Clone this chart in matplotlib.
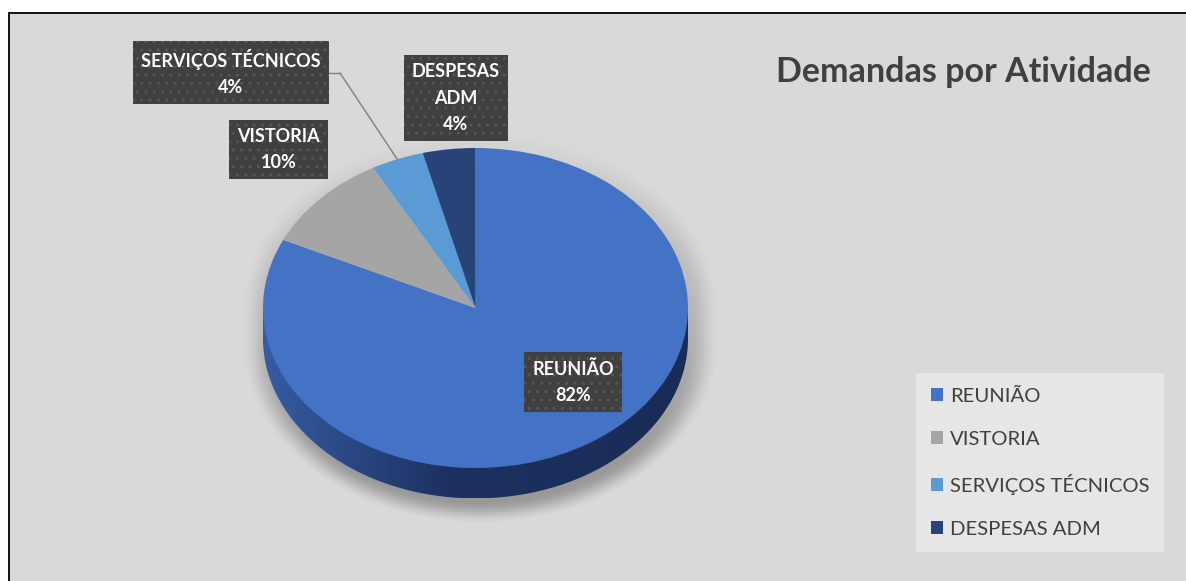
import numpy as np
import matplotlib
matplotlib.use("Agg")
import matplotlib.pyplot as plt
from matplotlib.patches import Rectangle, Polygon

# data
categories = ["REUNIÃO", "VISTORIA", "SERVIÇOS TÉCNICOS", "DESPESAS ADM"]
values = [82, 10, 4, 4]
colors = ["#4472C4", "#A5A5A5", "#5B9BD5", "#264478"]
label_texts = ["REUNIÃO", "VISTORIA", "SERVIÇOS TÉCNICOS", "DESPESAS\nADM"]
title = "Demandas por Atividade"

W, H = 1186, 581
FONT = ["Lato", "DejaVu Sans"]

# pie geometry in pixels (top ellipse) and depth of the 3D side
CX, CY = 475.5, 308.0
RX, RY = 212.5, 160.0
DEPTH = 0.19
M = 0.35

fig = plt.figure(figsize=(W / 100, H / 100), dpi=100)
fig.patch.set_facecolor("white")

ax_bg = fig.add_axes([0, 0, 1, 1])
ax_bg.set_xlim(0, W)
ax_bg.set_ylim(H, 0)
ax_bg.axis("off")
ax_bg.add_patch(Rectangle((9, 13), W, H, facecolor="#D9D9D9", edgecolor="black", lw=1.3))

# pie axes: unit circle stretched to the ellipse
x0, x1 = -1 - M, 1 + M
y0, y1 = -1 - DEPTH - M, 1 + M
left_px = CX + x0 * RX
top_px = CY - y1 * RY
w_px = (x1 - x0) * RX
h_px = (y1 - y0) * RY
ax = fig.add_axes([left_px / W, 1 - (top_px + h_px) / H, w_px / W, h_px / H])
ax.set_zorder(2)

# overlay for labels and leader line
ax_top = fig.add_axes([0, 0, 1, 1])
ax_top.set_xlim(0, W)
ax_top.set_ylim(H, 0)
ax_top.axis("off")
ax_top.set_zorder(3)
ax_top.patch.set_alpha(0)

# soft shadow around the cylinder
xs = np.linspace(x0, x1, 500)
ys = np.linspace(y0, y1, 500)
X, Y = np.meshgrid(xs, ys)
Xs = X - 0.02
r = np.sqrt(Xs ** 2 + (Y - np.clip(Y, -DEPTH - 0.04, 0)) ** 2)
t = np.clip((1.13 - r) / 0.15, 0, 1)
alpha = 0.3 * t * t * (3 - 2 * t)
alpha *= np.clip(0.55 - Y * 0.45, 0.1, 1)  # lighter at the top
img = np.zeros(X.shape + (4,))
img[..., 3] = alpha
ax.imshow(img, extent=[x0, x1, y0, y1], origin="lower", aspect="auto", zorder=0,
          interpolation="bilinear")

# 3D side of the pie (front half), gradient fill
ang = np.linspace(0, -np.pi, 200)
side = np.vstack([[1, 0], np.column_stack([np.cos(ang), np.sin(ang) - DEPTH]), [-1, 0]])
side_patch = Polygon(side, closed=True, facecolor="none", edgecolor="none")
ax.add_patch(side_patch)
gx = np.linspace(-1, 1, 300)
c_left = np.array([0x36, 0x5C, 0xA3]) / 255
c_mid = np.array([0x1D, 0x32, 0x62]) / 255
c_right = np.array([0x1A, 0x2C, 0x55]) / 255
grad = np.zeros((2, gx.size, 3))
for i, g in enumerate(gx):
    if g < -0.15:
        f = (g + 1) / 0.85
        grad[:, i] = c_left * (1 - f) + c_mid * f
    else:
        f = (g + 0.15) / 1.15
        grad[:, i] = c_mid * (1 - f) + c_right * f
gim = ax.imshow(grad, extent=[-1, 1, -1 - DEPTH, 0], origin="lower", aspect="auto", zorder=1)
gim.set_clip_path(side_patch)

wedges, _ = ax.pie(values, colors=colors, startangle=90, counterclock=False,
                   radius=1, center=(0, 0), wedgeprops=dict(linewidth=0))
for w in wedges:
    w.set_zorder(2)
ax.set_aspect("auto")
ax.set_xlim(x0, x1)
ax.set_ylim(y0, y1)
ax.axis("off")

# leader line for SERVIÇOS TÉCNICOS
total = sum(values)
cum = np.cumsum([0] + values)
k = 2
mid = np.deg2rad(90 - 360 * (cum[k] + values[k] / 2) / total)
ax_top.plot([329, 340], [73, 73], color="#7F7F7F", lw=1, zorder=4)
ax_top.annotate("", xy=(np.cos(mid), np.sin(mid)), xycoords=ax.transData,
                xytext=(340, 73), textcoords="data",
                arrowprops=dict(arrowstyle="-", color="#7F7F7F", lw=1,
                                shrinkA=0, shrinkB=0), zorder=4)

# data labels
label_pos = [(573, 382), (278.5, 149.5), (231, 72.5), (456, 98)]
box = dict(boxstyle="square,pad=0.45", facecolor="#404040", edgecolor="#565656",
           hatch="..", lw=0)
for txt, v, (lx, ly) in zip(label_texts, values, label_pos):
    ax_top.text(lx, ly, f"{txt}\n{round(100 * v / total)}%", ha="center", va="center",
                multialignment="center", color="white", fontsize=13, fontweight="bold",
                family=FONT, linespacing=1.65, bbox=box, zorder=5)

# title
ax_top.text(963.5, 82, title, ha="center", va="baseline", fontsize=24.5,
            fontweight="bold", color="#404040", family=FONT)

# legend
leg = fig.legend(wedges, categories, loc="upper left",
                 bbox_to_anchor=(916 / W, 1 - 373 / H), frameon=True,
                 facecolor="#E7E6E6", edgecolor="none", fancybox=False, framealpha=1,
                 prop=dict(family=FONT, size=14.6), labelcolor="#404040",
                 handlelength=0.6, handleheight=0.6, handletextpad=0.35,
                 labelspacing=1.28, borderpad=0.72, borderaxespad=0)
leg.set_zorder(6)

fig.savefig("out.png", dpi=100, facecolor=fig.get_facecolor())
